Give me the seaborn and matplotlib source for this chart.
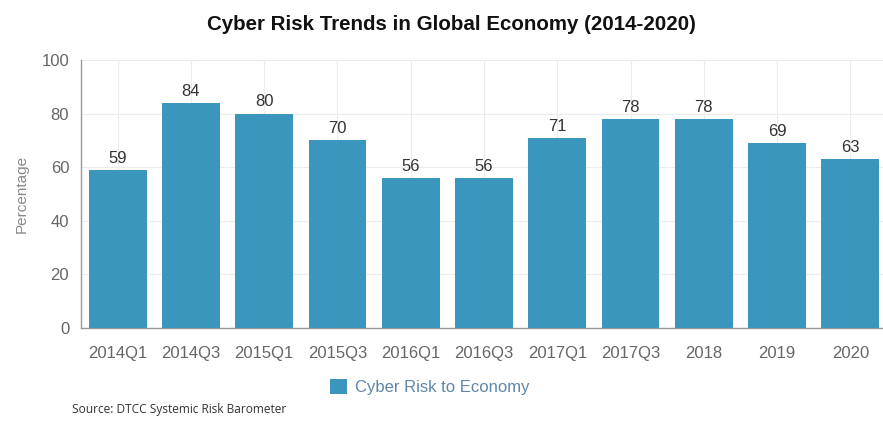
import matplotlib
matplotlib.use("Agg")
import matplotlib.pyplot as plt
import seaborn as sns
import pandas as pd

categories = ["2014Q1", "2014Q3", "2015Q1", "2015Q3", "2016Q1", "2016Q3",
              "2017Q1", "2017Q3", "2018", "2019", "2020"]
values = [59, 84, 80, 70, 56, 56, 71, 78, 78, 69, 63]
series_name = "Cyber Risk to Economy"
y_ticks = [0, 20, 40, 60, 80, 100]

sns.set_theme(style="white")
plt.rcParams['font.family'] = ['Liberation Sans', 'DejaVu Sans']

bar_color = "#3a96bc"
grey = "#666666"

fig = plt.figure(figsize=(8.83, 4.22), dpi=100)
ax = fig.add_axes([81/883, 1-328/422, 806/883, 268/422])

df = pd.DataFrame({"cat": categories, "val": values})
sns.barplot(data=df, x="cat", y="val", color=bar_color, saturation=1,
            width=0.79, ax=ax, label=series_name, zorder=3, linewidth=0)

ax.set_xlim(-0.5, len(categories) - 0.5)
ax.set_ylim(0, 100)
ax.set_yticks(y_ticks)
ax.grid(True, color="#ececec", linewidth=0.8, zorder=0)
ax.set_axisbelow(True)

for s in ["top", "right"]:
    ax.spines[s].set_visible(False)
for s in ["left", "bottom"]:
    ax.spines[s].set_color("#999999")
    ax.spines[s].set_linewidth(1)

ax.tick_params(axis="both", colors="#999999", length=5, width=1,
               labelsize=12, labelcolor=grey, direction="out")
ax.tick_params(axis="x", pad=8)
ax.set_xlabel("")
ax.set_ylabel("Percentage", color="#888888", fontsize=11, labelpad=9)

for c in ax.containers:
    ax.bar_label(c, labels=[str(v) for v in values], padding=3,
                 fontsize=12, color="#333333")

fig.suptitle("Cyber Risk Trends in Global Economy (2014-2020)",
             x=451/883, y=1-25/422, va="center", fontsize=14.8,
             fontweight="bold", color="#111111")

leg = ax.legend(loc="center", bbox_to_anchor=(430/883, 1-387/422),
                bbox_transform=fig.transFigure, frameon=False,
                fontsize=12, handlelength=1.0, handleheight=1.0,
                handletextpad=0.5)
for t in leg.get_texts():
    t.set_color("#5f87a8")

fig.text(72/883, 1-410/422, "Source: DTCC Systemic Risk Barometer",
         fontsize=8.6, color="#333333", va="center", ha="left",
         family=["Open Sans", "DejaVu Sans"])

fig.savefig("out.png", dpi=100)
